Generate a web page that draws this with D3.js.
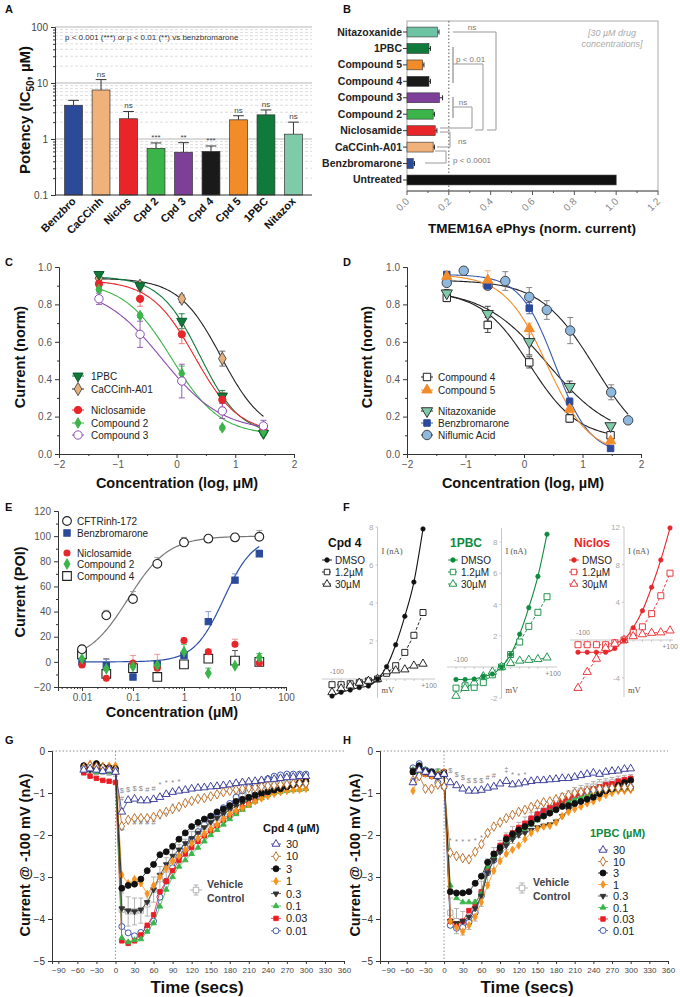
<!DOCTYPE html>
<html><head><meta charset="utf-8">
<script src="https://cdn.jsdelivr.net/npm/d3@7"></script>
<style>body{margin:0;background:#fff}svg{font-family:"Liberation Sans",Arial,Helvetica,sans-serif}</style>
</head><body>
<svg id="fig" width="680" height="997"></svg>
<script>
// ================= DATA =================
// Panel A
const aCats = ["Benzbro","CaCCinh","Niclos","Cpd 2","Cpd 3","Cpd 4","Cpd 5","1PBC","Nitazox"];
const aVals = [4.0,7.5,2.3,0.68,0.58,0.60,2.2,2.7,1.22];
const aErrTop = [4.9,11.5,3.1,0.85,0.86,0.75,2.6,3.3,2.0];
const aSig = ["","ns","ns","***","**","***","ns","ns","ns"];
const aColors = ["#2b4a9a","#f0b27a","#e8262a","#3bb44a","#7d3f98","#1a1a1a","#f28c28","#0f7a3a","#7fcaa8"];
const aTicks = [0.1,1,10,100];
// Panel B
const bCats = ["Nitazoxanide","1PBC","Compound 5","Compound 4","Compound 3","Compound 2","Niclosamide","CaCCinh-A01","Benzbromarone","Untreated"];
const bVals = [0.145,0.105,0.075,0.105,0.155,0.125,0.135,0.125,0.03,1.0];
const bErr = [0.008,0.007,0.006,0.007,0.015,0.006,0.008,0.006,0.006,0.0];
const bColors = ["#6cc4a4","#0f7a3a","#f28c28","#1a1a1a","#7d3f98","#3bb44a","#e8262a","#f0b27a","#2b4a9a","#111111"];
const bTicks = [0,0.2,0.4,0.6,0.8,1.0,1.2];
// Panels C & D (log µM)
const cdX = [-1.32,-0.62,0.09,0.78,1.48];
const c1PBC = [0.96,0.90,0.71,0.31,0.11], c1PBCe=[0.01,0.01,0.04,0.03,0.01];
const cCaCC = [0.94,0.90,0.83,0.51,0.13], cCaCCe=[0.01,0.01,0.02,0.04,0.02];
const cNiclos = [0.91,0.83,0.64,0.29,0.14], cNiclose=[0.01,0.04,0.05,0.04,0.02];
const cCpd2 = [0.88,0.74,0.43,0.14,0.12], cCpd2e=[0.01,0.01,0.04,0.01,0.01];
const cCpd3 = [0.83,0.64,0.39,0.23,0.15], cCpd3e=[0.03,0.07,0.09,0.04,0.03];
// fit params: top, bottom, logIC50, hill
const cFit1PBC=[0.95,0.10,0.40,1.27], cFitCaCC=[0.94,0.10,0.76,1.2], cFitNiclos=[0.93,0.11,0.31,1.16], cFitCpd2=[0.92,0.10,-0.08,1.06], cFitCpd3=[0.90,0.12,-0.25,0.85];
const dCpd4 = [0.835,0.69,0.49,0.19,0.10], dCpd4e=[0.02,0.04,0.03,0.02,0.02];
const dCpd5 = [0.95,0.93,0.67,0.24,0.07], dCpd5e=[0.01,0.05,0.03,0.02,0.01];
const dNitaz = [0.86,0.75,0.60,0.36,0.15], dNitaze=[0.02,0.04,0.07,0.03,0.01];
const dBenz = [0.96,0.90,0.78,0.28,0.03], dBenze=[0.01,0.01,0.03,0.02,0.01];
const dNiflX = [-1.32,-1.03,-0.62,-0.32,0.09,0.39,0.79,1.49,1.78];
const dNifl = [0.915,0.98,0.90,0.925,0.84,0.77,0.66,0.33,0.18], dNifle=[0.01,0.02,0.01,0.05,0.05,0.05,0.07,0.04,0.01];
const dFitCpd4=[0.87,0.08,0.10,1.05], dFitCpd5=[0.96,0.0,0.39,1.2], dFitNitaz=[0.88,0.08,0.41,0.79], dFitBenz=[0.96,0.0,0.53,1.46], dFitNifl=[0.93,0.0,1.21,0.93];
// Panel E
const eConc = [0.01,0.03,0.1,0.3,1,3,10,30];
const eCFTR = [10,37,50,78,95,98,99,99.5], eCFTRe=[3,4,6,5,4,2,3,5];
const eBenz = [0,-3,-12,-2,5,32,65,86], eBenze=[1,5,1,2,1,8,5,3];
const eNiclos = [-2.5,-13,-1,-5,17,8,14,-1], eNiclose=[1,1,6,11,2,2,4,1];
const eCpd2 = [2.4,-5.5,-3.7,-2.7,8,-9,-3,3.5], eCpd2e=[1,1,1,2,6,4,1,3];
const eCpd4 = [6,-9.6,-5,-12,-2,2.5,1,0], eCpd4e=[2,12,2,2,2,2,8,2];
const eFitCFTR=[100,0,0.08,1.1], eFitBenz=[100,0,6,1.5];
const eTicks = [0.01,0.1,1,10,100];
// Panel F (I-V)
const fV = [-100,-80,-60,-40,-20,0,20,40,60,80,100];
const fCpd4D = [-0.9,-0.7,-0.58,-0.45,-0.37,0,0.65,1.8,3.3,5.1,7.9];
const fCpd4L = [-0.3,-0.3,-0.25,-0.2,-0.1,0,0.3,0.7,1.4,2.3,3.5];
const fCpd4H = [-0.7,-0.5,-0.35,-0.2,-0.1,0,0.4,0.45,0.5,0.7,0.8];
const f1PBCD = [-0.8,-0.8,-0.77,-0.6,-0.45,0,0.8,2.1,3.8,5.8,8.5];
const f1PBCL = [-1.35,-1.2,-1.3,-1.0,-0.5,0,0.8,1.6,2.6,3.5,4.5];
const f1PBCH = [-1.85,-1.35,-1.0,-0.6,-0.3,0,0.25,0.4,0.45,0.5,0.6];
const fNicD = [-1.3,-1.3,-1.3,-1.3,-0.9,0,1.3,3.1,5.6,8.5,11.9];
const fNicL = [-0.5,-0.5,-0.5,-0.5,-0.3,0,0.85,1.4,2.8,4.7,7.1];
const fNicH = [-5.1,-3.4,-2.0,-0.85,-0.4,0,0.4,0.6,0.75,0.8,1.0];
// Panels G & H (time courses)
const tT = [-50,-40,-30,-20,-10,0,10,20,30,40,50,60,70,80,90,100,110,120,130,140,150,160,170,180,190,200,210,220,230,240,250,260,270,280,290,300];
const tConcs = ["30","10","3","1","0.3","0.1","0.03","0.01"];
const g30 = [-0.45,-0.42,-0.45,-0.48,-0.45,-0.5,-1.45,-1.17,-1.14,-1.18,-1.18,-1.15,-1.1,-1.03,-0.98,-0.95,-0.93,-0.9,-0.88,-0.87,-0.85,-0.84,-0.82,-0.8,-0.77,-0.75,-0.73,-0.72,-0.7,-0.68,-0.67,-0.65,-0.63,-0.62,-0.6,-0.6];
const g10 = [-0.4,-0.35,-0.38,-0.4,-0.42,-0.45,-1.79,-1.64,-1.6,-1.6,-1.6,-1.57,-1.5,-1.45,-1.38,-1.33,-1.24,-1.19,-1.14,-1.12,-1.08,-1.03,-0.98,-0.95,-0.92,-0.9,-0.88,-0.87,-0.85,-0.83,-0.82,-0.8,-0.8,-0.78,-0.77,-0.77];
const g3 = [-0.35,-0.4,-0.3,-0.38,-0.4,-0.42,-3.27,-3.2,-3.17,-3.05,-2.85,-2.7,-2.47,-2.4,-2.27,-2.1,-1.95,-1.8,-1.7,-1.62,-1.55,-1.45,-1.38,-1.3,-1.2,-1.15,-1.1,-1.05,-1.0,-0.97,-0.93,-0.9,-0.85,-0.8,-0.75,-0.72];
const g1 = [-0.35,-0.3,-0.38,-0.35,-0.35,-0.35,-2.95,-3.15,-3.05,-3.15,-3.4,-3.2,-3.0,-2.8,-2.62,-2.5,-2.35,-2.2,-2.08,-1.97,-1.85,-1.75,-1.62,-1.5,-1.42,-1.35,-1.27,-1.2,-1.13,-1.08,-1.02,-0.98,-0.95,-0.93,-0.92,-0.9];
const g03 = [-0.4,-0.45,-0.4,-0.42,-0.45,-0.45,-3.75,-3.8,-3.82,-3.78,-3.6,-3.3,-2.95,-2.7,-2.5,-2.35,-2.2,-2.08,-1.95,-1.82,-1.7,-1.6,-1.5,-1.4,-1.32,-1.25,-1.18,-1.12,-1.06,-1.0,-0.96,-0.92,-0.88,-0.85,-0.82,-0.8];
const g01 = [-0.42,-0.45,-0.5,-0.45,-0.5,-0.5,-4.45,-4.55,-4.5,-4.48,-4.3,-4.1,-3.7,-3.3,-3.0,-2.75,-2.6,-2.45,-2.3,-2.15,-2.0,-1.88,-1.75,-1.62,-1.5,-1.4,-1.3,-1.2,-1.12,-1.05,-1.0,-0.97,-0.95,-0.93,-0.92,-0.9];
const g003 = [-0.52,-0.6,-0.65,-0.7,-0.72,-0.75,-4.52,-4.58,-4.52,-4.38,-4.15,-3.9,-3.35,-3.1,-2.85,-2.6,-2.45,-2.3,-2.15,-2.02,-1.9,-1.78,-1.65,-1.55,-1.45,-1.35,-1.27,-1.18,-1.1,-1.02,-0.97,-0.9,-0.85,-0.8,-0.76,-0.72];
const g001 = [-0.4,-0.38,-0.42,-0.45,-0.45,-0.48,-4.18,-4.33,-4.4,-4.32,-4.22,-4.05,-3.48,-3.1,-2.78,-2.52,-2.3,-2.1,-1.92,-1.75,-1.6,-1.48,-1.35,-1.25,-1.1,-0.95,-0.85,-0.78,-0.72,-0.66,-0.6,-0.57,-0.55,-0.55,-0.55,-0.55];
const gVeh = [-0.45,-0.45,-0.48,-0.48,-0.5,-0.5,-3.78,-3.82,-3.82,-3.8,-3.65,-3.3,-3.05,-2.82,-2.6,-2.45,-2.3,-2.12,-1.98,-1.85,-1.72,-1.6,-1.5,-1.38,-1.15,-1.05,-1.0,-0.95,-0.9,-0.85,-0.82,-0.8,-0.78,-0.75,-0.73,-0.72];
const gVehE = [0.08,0.08,0.08,0.08,0.08,0.1,0.4,0.35,0.32,0.3,0.28,0.3,0.3,0.28,0.25,0.22,0.2,0.2,0.18,0.18,0.16,0.15,0.15,0.15,0.15,0.14,0.14,0.13,0.13,0.12,0.12,0.12,0.12,0.12,0.12,0.12];
const gAnnT = [10,20,30,40,50,60,70,80,90,100,10,30,40,50,60,70,80,90,10];
const gAnnV = [-1.0,-0.98,-0.95,-0.95,-0.98,-0.95,-0.85,-0.8,-0.82,-0.78,-1.18,-1.76,-1.76,-1.76,-1.76,-1.69,-1.57,-1.36,-1.95];
const gAnnS = ["$","$","$","$","#","#","*","*","*","*","#","#","#","#","#","*","*","*","**"];
const h30 = [-0.75,-0.45,-0.5,-0.55,-0.6,-0.55,-0.75,-0.82,-0.9,-0.95,-0.95,-0.93,-0.88,-0.85,-0.78,-0.72,-0.8,-0.78,-0.75,-0.72,-0.7,-0.7,-0.68,-0.67,-0.65,-0.65,-0.62,-0.58,-0.55,-0.52,-0.55,-0.5,-0.48,-0.47,-0.43,-0.42];
const h10 = [-0.7,-0.6,-0.9,-0.9,-0.8,-0.85,-2.42,-2.5,-2.55,-2.58,-2.4,-2.22,-1.95,-1.8,-1.7,-1.6,-1.52,-1.45,-1.4,-1.33,-1.27,-1.22,-1.2,-1.15,-1.1,-1.05,-1.0,-0.98,-0.95,-0.93,-0.9,-0.9,-0.88,-0.88,-0.87,-0.87];
const h3 = [-0.5,-0.35,-0.5,-0.5,-0.6,-0.55,-3.35,-3.38,-3.38,-3.35,-3.15,-2.98,-2.65,-2.45,-2.3,-2.1,-1.98,-1.88,-1.8,-1.72,-1.62,-1.55,-1.48,-1.4,-1.32,-1.3,-1.25,-1.2,-1.15,-1.1,-1.02,-0.95,-0.9,-0.82,-0.75,-0.7];
const h1 = [-0.95,-0.6,-0.55,-0.6,-0.55,-0.5,-4.05,-4.2,-4.3,-4.15,-3.95,-3.6,-3.2,-2.85,-2.62,-2.45,-2.35,-2.25,-2.1,-1.95,-1.85,-1.8,-1.78,-1.7,-1.55,-1.45,-1.38,-1.32,-1.25,-1.2,-1.12,-1.05,-1.0,-0.95,-0.95,-0.93];
const h03 = [-0.45,-0.5,-0.45,-0.5,-0.55,-0.5,-4.05,-4.1,-4.05,-3.95,-3.75,-3.45,-2.9,-2.6,-2.4,-2.25,-2.1,-2.0,-1.95,-1.88,-1.82,-1.78,-1.75,-1.68,-1.55,-1.4,-1.3,-1.22,-1.15,-1.08,-1.02,-0.98,-0.95,-0.93,-0.92,-0.9];
const h01 = [-0.45,-0.5,-0.45,-0.55,-0.5,-0.5,-3.2,-3.5,-3.6,-3.6,-3.6,-3.4,-2.75,-2.5,-2.35,-2.2,-2.05,-1.95,-1.85,-1.75,-1.65,-1.55,-1.45,-1.38,-1.3,-1.22,-1.15,-1.1,-1.05,-1.0,-0.97,-0.95,-0.93,-0.92,-0.9,-0.9];
const h003 = [-0.5,-0.45,-0.55,-0.6,-0.55,-0.5,-4.05,-4.12,-4.05,-3.8,-3.65,-3.35,-2.8,-2.45,-2.25,-2.05,-1.95,-1.82,-1.72,-1.6,-1.5,-1.42,-1.35,-1.28,-1.2,-1.12,-1.05,-1.0,-0.95,-0.9,-0.85,-0.8,-0.78,-0.72,-0.68,-0.65];
const h001 = [-0.4,-0.3,-0.45,-0.5,-0.75,-0.85,-4.15,-4.22,-4.2,-4.08,-3.85,-3.45,-2.9,-2.6,-2.38,-2.2,-2.05,-1.9,-1.78,-1.65,-1.55,-1.45,-1.38,-1.3,-1.22,-1.15,-1.08,-1.02,-0.98,-0.95,-0.92,-0.9,-0.9,-0.88,-0.87,-0.87];
const hVeh = [-0.45,-0.45,-0.5,-0.5,-0.5,-0.55,-3.85,-4.05,-4.1,-4.0,-3.8,-3.4,-2.85,-2.55,-2.35,-2.15,-2.0,-1.88,-1.75,-1.62,-1.52,-1.42,-1.35,-1.25,-1.15,-1.08,-1.0,-0.95,-0.9,-0.85,-0.8,-0.78,-0.75,-0.72,-0.7,-0.68];
const hVehE = [0.08,0.08,0.08,0.08,0.08,0.1,0.35,0.3,0.28,0.25,0.25,0.3,0.28,0.25,0.22,0.2,0.2,0.18,0.18,0.16,0.15,0.15,0.15,0.14,0.14,0.13,0.13,0.13,0.12,0.12,0.12,0.12,0.12,0.12,0.12,0.12];
const hAnnT = [10,20,30,40,50,60,70,80,100,110,120,130,10,20,30,40,50,60];
const hAnnV = [-0.52,-0.62,-0.69,-0.76,-0.76,-0.76,-0.69,-0.64,-0.5,-0.62,-0.64,-0.62,-2.19,-2.21,-2.21,-2.21,-2.19,-2.12];
const hAnnS = ["$","$","$","$","$","$","#","#","‡","*","*","*","*","*","*","*","*","*"];
const tTicks = [-90,-60,-30,0,30,60,90,120,150,180,210,240,270,300,330,360];

// ================= DRAWING =================
const FONT = '"Liberation Sans", Arial, Helvetica, sans-serif';
const svg = d3.select("#fig");
svg.append("rect").attr("width",680).attr("height",997).attr("fill","#fff");

function txt(x,y,s,o={}){
  const t=svg.append("text").attr("x",x).attr("y",y).text(s)
    .attr("font-size",o.size||10).attr("fill",o.fill||"#222")
    .attr("font-weight",o.bold?"bold":"normal").attr("text-anchor",o.anchor||"start")
    .attr("font-family",o.family||FONT);
  if(o.italic) t.attr("font-style","italic");
  if(o.rotate!=null) t.attr("transform",`rotate(${o.rotate},${x},${y})`);
  return t;
}
const symMap={circle:d3.symbolCircle,square:d3.symbolSquare,triangle:d3.symbolTriangle,down:d3.symbolTriangle,diamond:d3.symbolDiamond};
function sym(x,y,type,size,fill,stroke,sw){
  svg.append("path").attr("d",d3.symbol(symMap[type],size)())
    .attr("transform",`translate(${x},${y})`+(type==="down"?" rotate(180)":""))
    .attr("fill",fill).attr("stroke",stroke||"none").attr("stroke-width",sw||0.8);
}
function line(x1,y1,x2,y2,c,w,dash){
  const l=svg.append("line").attr("x1",x1).attr("y1",y1).attr("x2",x2).attr("y2",y2).attr("stroke",c||"#333").attr("stroke-width",w||1);
  if(dash) l.attr("stroke-dasharray",dash);
  return l;
}
function styleAxis(g,size,color){
  g.attr("font-family",FONT);
  g.selectAll("text").attr("font-size",size||10).attr("fill",color||"#555");
  g.selectAll("line,path").attr("stroke","#333");
}
function hill(x,p){return p[1]+(p[0]-p[1])/(1+Math.pow(10,(x-p[2])*p[3]));}
function ehill(x,p){return p[1]+(p[0]-p[1])/(1+Math.pow(p[2]/x,p[3]));}

// Panel letters
[["A",5,13],["B",343,13],["C",5,266],["D",343,266],["E",5,511],["F",343,511],["G",5,744],["H",343,744]]
 .forEach(d=>txt(d[1],d[2],d[0],{size:11,bold:true,fill:"#111"}));

// ---------- Panel A ----------
{
  const xS=d3.scaleBand().domain(aCats).range([55,312]).paddingInner(0.35).paddingOuter(0.35);
  const yS=d3.scaleLog().domain([0.1,100]).range([195,27]);
  [0.1,1,10].forEach(dec=>{for(let m=2;m<=9;m++){const v=dec*m;line(55,yS(v),312,yS(v),"#cfcfcf",0.7,"3,2");}});
  [1,10,100].forEach(v=>line(55,yS(v),312,yS(v),"#b5b5b5",1));
  txt(65,40,"p < 0.001 (***)  or p < 0.01 (**) vs benzbromarone",{size:8,fill:"#333"});
  aCats.forEach((c,i)=>{
    const x=xS(c),w=xS.bandwidth(),cx=x+w/2;
    line(cx,yS(aVals[i]),cx,yS(aErrTop[i]),"#333",1);
    line(cx-w*0.3,yS(aErrTop[i]),cx+w*0.3,yS(aErrTop[i]),"#333",1);
    svg.append("rect").attr("x",x).attr("y",yS(aVals[i])).attr("width",w).attr("height",yS(0.1)-yS(aVals[i]))
      .attr("fill",aColors[i]).attr("stroke","#333").attr("stroke-width",0.7);
    if(aSig[i]) txt(cx,yS(aErrTop[i])-3,aSig[i],{size:8,anchor:"middle",fill:"#444"});
    txt(cx+3,202,c,{size:11,bold:true,anchor:"end",rotate:-45,fill:"#111"});
  });
  const ax=svg.append("g").attr("transform","translate(55,0)").call(d3.axisLeft(yS).tickValues(aTicks).tickFormat(d=>String(d)).tickSize(4));
  styleAxis(ax,10,"#444");
  const axm=svg.append("g").attr("transform","translate(55,0)").call(d3.axisLeft(yS).tickValues([2,3,4,5,6,7,8,9].flatMap(m=>[0.1*m,m,10*m])).tickFormat("").tickSize(2));
  axm.select(".domain").remove(); axm.selectAll("line").attr("stroke","#333");
  line(55,195,312,195,"#333",1);
  const t=svg.append("text").attr("transform","translate(30,110) rotate(-90)").attr("text-anchor","middle")
    .attr("font-size",15).attr("font-weight","bold").attr("fill","#111").attr("font-family",FONT);
  t.append("tspan").text("Potency (IC");
  t.append("tspan").text("50").attr("font-size",10).attr("dy",4);
  t.append("tspan").text(", µM)").attr("dy",-4);
}

// ---------- Panel B ----------
{
  const xS=d3.scaleLinear().domain([0,1.2]).range([407,658]);
  const yS=d3.scaleBand().domain(bCats).range([21,191]).paddingInner(0.4).paddingOuter(0.37);
  svg.append("rect").attr("x",407).attr("y",21).attr("width",251).attr("height",170).attr("fill","none").attr("stroke","#aaa").attr("stroke-width",1);
  line(xS(0.2),21,xS(0.2),191,"#333",0.8,"1.5,2");
  bCats.forEach((c,i)=>{
    const y=yS(c),h=yS.bandwidth(),cy=y+h/2;
    svg.append("rect").attr("x",xS(0)).attr("y",y).attr("width",xS(bVals[i])-xS(0)).attr("height",h)
      .attr("fill",bColors[i]).attr("stroke","#333").attr("stroke-width",0.6);
    if(bErr[i]>0){line(xS(bVals[i]),cy,xS(bVals[i]+bErr[i]),cy,"#222",1);line(xS(bVals[i]+bErr[i]),cy-2.5,xS(bVals[i]+bErr[i]),cy+2.5,"#222",1);}
    line(403,cy,407,cy,"#333",1);
    txt(402,cy+3.5,c,{size:10.5,bold:true,anchor:"end",fill:"#222"});
  });
  const gr="#999";
  const path=(d)=>svg.append("path").attr("d",d).attr("fill","none").attr("stroke",gr).attr("stroke-width",1);
  path("M453,32H496V130H487");
  line(453,47,453,83,"#bbb",2);
  path("M453,64H483V130H475");
  line(453,97,453,118,"#bbb",2);
  path("M453,107H472V128H440");
  path("M440,132H450V147H437");
  path("M435,151H446V163H425");
  txt(472,30,"ns",{size:8,fill:"#777",anchor:"middle"});
  txt(456,62,"p < 0.01",{size:8,fill:"#777"});
  txt(463,105,"ns",{size:8,fill:"#777",anchor:"middle"});
  txt(458,144,"ns",{size:8,fill:"#777"});
  txt(453,163,"p < 0.0001",{size:8,fill:"#777"});
  txt(612,36,"[30 µM drug",{size:9,italic:true,fill:"#aaa",anchor:"middle"});
  txt(612,47,"concentrations]",{size:9,italic:true,fill:"#aaa",anchor:"middle"});
  line(407,191,658,191,"#555",1);
  bTicks.forEach(v=>{line(xS(v),191,xS(v),195,"#555",1);txt(xS(v)+3,202,d3.format(".1f")(v),{size:10,anchor:"end",rotate:-45,fill:"#888"});});
  [0.1,0.3,0.5,0.7,0.9,1.1].forEach(v=>line(xS(v),191,xS(v),193,"#555",1));
  txt(532,233,"TMEM16A ePhys (norm. current)",{size:13.5,bold:true,anchor:"middle",fill:"#111"});
}

// ---------- Panels C & D ----------
function dosePanel(x0,x1,series,legX,legTxtX,legItems,yTitleX,xTitleX){
  const xS=d3.scaleLinear().domain([-2,2]).range([x0,x1]);
  const yS=d3.scaleLinear().domain([0,1]).range([454,267]);
  series.forEach(s=>{
    const lo=d3.min(s.x),hi=d3.max(s.x);
    const pts=d3.range(0,121).map(i=>{const x=lo+(hi-lo)*i/120;return [xS(x),yS(hill(x,s.fit))];});
    svg.append("path").attr("d",d3.line()(pts)).attr("fill","none").attr("stroke",s.lc).attr("stroke-width",1.1);
  });
  series.forEach(s=>{
    s.x.forEach((x,i)=>{
      const cx=xS(x),y1=yS(s.y[i]+s.e[i]),y2=yS(s.y[i]-s.e[i]);
      line(cx,y1,cx,y2,s.ec,0.9);line(cx-3,y1,cx+3,y1,s.ec,0.9);line(cx-3,y2,cx+3,y2,s.ec,0.9);
    });
  });
  series.forEach(s=>s.x.forEach((x,i)=>sym(xS(x),yS(s.y[i]),s.m,s.sz,s.f,s.s,1)));
  const ax=svg.append("g").attr("transform",`translate(${x0},0)`).call(d3.axisLeft(yS).tickValues([0,0.2,0.4,0.6,0.8,1.0]).tickFormat(d3.format(".1f")).tickSize(4));
  styleAxis(ax,10,"#555");
  const am=svg.append("g").attr("transform",`translate(${x0},0)`).call(d3.axisLeft(yS).tickValues([0.1,0.3,0.5,0.7,0.9]).tickFormat("").tickSize(2));
  am.select(".domain").remove();am.selectAll("line").attr("stroke","#333");
  const bx=svg.append("g").attr("transform","translate(0,454)").call(d3.axisBottom(xS).tickValues([-2,-1,0,1,2]).tickFormat(d3.format("d")).tickSize(4));
  styleAxis(bx,10,"#555");
  const bm=svg.append("g").attr("transform","translate(0,454)").call(d3.axisBottom(xS).tickValues([-1.5,-0.5,0.5,1.5]).tickFormat("").tickSize(2));
  bm.select(".domain").remove();bm.selectAll("line").attr("stroke","#333");
  legItems.forEach(L=>{
    line(legX-6,L.y,legX+6,L.y,L.s.lc,1);
    sym(legX,L.y,L.s.m,L.s.sz,L.s.f,L.s.s,1);
    txt(legTxtX,L.y+3.5,L.t,{size:10,fill:"#222"});
  });
  txt(yTitleX,357,"Current (norm)",{size:14.5,bold:true,anchor:"middle",rotate:-90,fill:"#111"});
  txt(xTitleX,488,"Concentration (log, µM)",{size:14.5,bold:true,anchor:"middle",fill:"#111"});
}
{
  const s1={x:cdX,y:c1PBC,e:c1PBCe,fit:cFit1PBC,lc:"#0f7a3a",ec:"#0f7a3a",m:"down",sz:45,f:"#0f7a3a",s:"#0a5a2a"};
  const s2={x:cdX,y:cCaCC,e:cCaCCe,fit:cFitCaCC,lc:"#222",ec:"#555",m:"diamond",sz:50,f:"#e8b07a",s:"#555"};
  const s3={x:cdX,y:cNiclos,e:cNiclose,fit:cFitNiclos,lc:"#e8262a",ec:"#e87070",m:"circle",sz:42,f:"#e8262a",s:"#e8262a"};
  const s4={x:cdX,y:cCpd2,e:cCpd2e,fit:cFitCpd2,lc:"#3bb44a",ec:"#3bb44a",m:"diamond",sz:32,f:"#3bb44a",s:"#3bb44a"};
  const s5={x:cdX,y:cCpd3,e:cCpd3e,fit:cFitCpd3,lc:"#8a4fb0",ec:"#8a4fb0",m:"circle",sz:55,f:"#fff",s:"#8a4fb0"};
  dosePanel(59,294,[s2,s1,s3,s4,s5],78,91,[{y:376,s:s1,t:"1PBC"},{y:389,s:s2,t:"CaCCinh-A01"},{y:410,s:s3,t:"Niclosamide"},{y:423,s:s4,t:"Compound 2"},{y:435,s:s5,t:"Compound 3"}],25,177);
  const d1={x:cdX,y:dCpd4,e:dCpd4e,fit:dFitCpd4,lc:"#222",ec:"#333",m:"square",sz:55,f:"#fff",s:"#222"};
  const d2={x:cdX,y:dCpd5,e:dCpd5e,fit:dFitCpd5,lc:"#f28c28",ec:"#f5a860",m:"triangle",sz:45,f:"#f28c28",s:"#f28c28"};
  const d3s={x:cdX,y:dNitaz,e:dNitaze,fit:dFitNitaz,lc:"#222",ec:"#333",m:"down",sz:55,f:"#7fcaa8",s:"#333"};
  const d4={x:cdX,y:dBenz,e:dBenze,fit:dFitBenz,lc:"#3a5bb0",ec:"#3a5bb0",m:"square",sz:42,f:"#2b4a9a",s:"#2b4a9a"};
  const d5={x:dNiflX,y:dNifl,e:dNifle,fit:dFitNifl,lc:"#222",ec:"#777",m:"circle",sz:70,f:"#8fb8de",s:"#444"};
  dosePanel(407,641,[d5,d1,d3s,d4,d2],427,438,[{y:377,s:d1,t:"Compound 4"},{y:390,s:d2,t:"Compound 5"},{y:411,s:d3s,t:"Nitazoxanide"},{y:423,s:d4,t:"Benzbromarone"},{y:435,s:d5,t:"Niflumic Acid"}],372,523);
}

// ---------- Panel E ----------
{
  const xS=d3.scaleLog().domain([Math.pow(10,-2.47),100]).range([58,286]);
  const yS=d3.scaleLinear().domain([-20,120]).range([687,511]);
  const fits=[[eFitCFTR,"#777"],[eFitBenz,"#2b4fa8"]];
  fits.forEach(([p,c])=>{
    const pts=d3.range(0,121).map(i=>{const lx=-2+(Math.log10(30)+2)*i/120;const x=Math.pow(10,lx);return [xS(x),yS(ehill(x,p))];});
    svg.append("path").attr("d",d3.line()(pts)).attr("fill","none").attr("stroke",c).attr("stroke-width",1.2);
  });
  const ser=[
    {y:eCpd4,e:eCpd4e,m:"square",sz:75,f:"#fff",s:"#222",ec:"#444"},
    {y:eCFTR,e:eCFTRe,m:"circle",sz:60,f:"#fff",s:"#222",ec:"#999"},
    {y:eBenz,e:eBenze,m:"square",sz:40,f:"#2b4a9a",s:"#2b4a9a",ec:"#7d94cc"},
    {y:eNiclos,e:eNiclose,m:"circle",sz:28,f:"#e8262a",s:"#e8262a",ec:"#ee8a8a"},
    {y:eCpd2,e:eCpd2e,m:"diamond",sz:28,f:"#3bb44a",s:"#3bb44a",ec:"#3bb44a"}];
  ser.forEach(s=>eConc.forEach((c,i)=>{const cx=xS(c);const y1=yS(s.y[i]+s.e[i]);line(cx,yS(s.y[i]),cx,y1,s.ec,0.9);line(cx-3,y1,cx+3,y1,s.ec,0.9);}));
  ser.forEach(s=>eConc.forEach((c,i)=>sym(xS(c),yS(s.y[i]),s.m,s.sz,s.f,s.s,1.1)));
  const ax=svg.append("g").attr("transform","translate(58,0)").call(d3.axisLeft(yS).tickValues([-20,0,20,40,60,80,100,120]).tickSize(4));
  styleAxis(ax,10,"#555");
  const am=svg.append("g").attr("transform","translate(58,0)").call(d3.axisLeft(yS).tickValues([-10,10,30,50,70,90,110]).tickFormat("").tickSize(2));
  am.select(".domain").remove();am.selectAll("line").attr("stroke","#333");
  const bx=svg.append("g").attr("transform","translate(0,687)").call(d3.axisBottom(xS).tickValues(eTicks).tickFormat(d=>String(d)).tickSize(4));
  styleAxis(bx,10,"#555");
  const minor=[];[0.001,0.01,0.1,1,10].forEach(d=>{for(let m=2;m<=9;m++){const v=d*m;if(xS(v)>=58&&v<100)minor.push(v);}});
  const bm=svg.append("g").attr("transform","translate(0,687)").call(d3.axisBottom(xS).tickValues(minor).tickFormat("").tickSize(2));
  bm.select(".domain").remove();bm.selectAll("line").attr("stroke","#333");
  const leg=[[521,ser[1],"CFTRinh-172"],[533,ser[2],"Benzbromarone"],[553,ser[3],"Niclosamide"],[564,ser[4],"Compound 2"],[576,ser[0],"Compound 4"]];
  leg.forEach(L=>{sym(67,L[0],L[1].m,L[1].sz,L[1].f,L[1].s,1.1);txt(77,L[0]+3.5,L[2],{size:10,fill:"#222"});});
  txt(25,592,"Current (POI)",{size:14.5,bold:true,anchor:"middle",rotate:-90,fill:"#111"});
  txt(172,717,"Concentration (µM)",{size:14.5,bold:true,anchor:"middle",fill:"#111"});
}

// ---------- Panel F ----------
function ivPanel(c){
  const xS=d3.scaleLinear().domain([-100,100]).range([c.xl,c.xr]);
  const yS=d3.scaleLinear().domain([0,c.ymax]).range([c.y0,c.ytop]);
  const ox=xS(0);
  line(c.hx0,c.y0,c.hx1,c.y0,"#bbb",0.8);
  line(ox,c.vy0,ox,c.vy1,"#bbb",0.8);
  c.ticks.forEach(v=>{line(ox-2,yS(v),ox,yS(v),"#bbb",0.8);txt(ox-4,yS(v)+3,String(v),{size:8,fill:"#aaa",anchor:"end"});});
  [-100,-80,-60,-40,-20,20,40,60,80,100].forEach(v=>line(xS(v),c.y0,xS(v),c.y0+2,"#bbb",0.8));
  txt(xS(-100)-2,c.y0-5,"-100",{size:7,fill:"#888"});
  txt(Math.min(xS(100)+14,678),c.y0+c.plusDy,"+100",{size:7,fill:"#888",anchor:"end"});
  txt(ox+4,c.mvY,"mV",{size:8.5,fill:"#555",family:'"Liberation Serif","Times New Roman",serif'});
  txt(ox+4,554,"I (nA)",{size:8.5,fill:"#555",family:'"Liberation Serif","Times New Roman",serif'});
  const col=c.col;
  const ln=d3.line().x((d,i)=>xS(fV[i])).y(d=>yS(d));
  svg.append("path").attr("d",ln.curve(d3.curveMonotoneX)(c.D)).attr("fill","none").attr("stroke",col).attr("stroke-width",1.1);
  svg.append("path").attr("d",d3.line().x((d,i)=>xS(fV[i])).y(d=>yS(d))(c.L)).attr("fill","none").attr("stroke",col).attr("stroke-width",0.9).attr("stroke-dasharray","3,2");
  svg.append("path").attr("d",d3.line().x((d,i)=>xS(fV[i])).y(d=>yS(d))(c.H)).attr("fill","none").attr("stroke",col).attr("stroke-width",0.9).attr("stroke-dasharray","3,2");
  fV.forEach((v,i)=>{
    sym(xS(v),yS(c.L[i]),"square",36,"#fff",col,0.9);
    sym(xS(v),yS(c.H[i]),"triangle",30,"#fff",col,0.9);
    sym(xS(v),yS(c.D[i]),"circle",16,col,col,0.6);
  });
  txt(c.tx,547,c.title,{size:12,bold:true,fill:c.tcol});
  const lg=[[560,"circle",16,col,"DMSO",false],[572,"square",30,"#fff","1.2µM",true],[584,"triangle",26,"#fff","30µM",true]];
  lg.forEach(L=>{line(c.mx-5,L[0],c.mx+5,L[0],col,0.9,L[5]?"2,1.5":null);sym(c.mx,L[0],L[1],L[2],L[3],col,0.9);txt(c.mx+8,L[0]+3.5,L[4],{size:10,fill:"#222"});});
}
ivPanel({xl:332,xr:423,y0:679,ymax:8,ytop:527,hx0:322,hx1:435,vy0:527,vy1:698,ticks:[2,4,6,8],D:fCpd4D,L:fCpd4L,H:fCpd4H,col:"#111",title:"Cpd 4",tcol:"#111",tx:328,mx:327,plusDy:9,mvY:693});
ivPanel({xl:456,xr:547,y0:667,ymax:8,ytop:542,hx0:447,hx1:557,vy0:528,vy1:698,ticks:[-2,2,4,6,8],D:f1PBCD,L:f1PBCL,H:f1PBCH,col:"#0f8a3e",title:"1PBC",tcol:"#0f8a3e",tx:450,mx:453,plusDy:9,mvY:693});
ivPanel({xl:578,xr:670,y0:640,ymax:12,ytop:527,hx0:570,hx1:673,vy0:527,vy1:697,ticks:[-4,4,8,12],D:fNicD,L:fNicL,H:fNicH,col:"#e8262a",title:"Niclos",tcol:"#e8262a",tx:574,mx:574,plusDy:9,mvY:693});

// ---------- Panels G & H ----------
const tStyles=[
  {m:"triangle",sz:26,f:"#fff",s:"#2e3192"},
  {m:"diamond",sz:26,f:"#fff",s:"#b5651d"},
  {m:"circle",sz:28,f:"#111",s:"#111"},
  {m:"diamond",sz:16,f:"#f7941d",s:"#f7941d"},
  {m:"down",sz:14,f:"#333",s:"#333"},
  {m:"triangle",sz:14,f:"#39b54a",s:"#39b54a"},
  {m:"square",sz:20,f:"#ed1c24",s:"#ed1c24"},
  {m:"circle",sz:28,f:"#fff",s:"#2e4a9e"}];
function tcPanel(c){
  const xS=d3.scaleLinear().domain(c.dom).range([c.x0,c.x1]);
  const yS=d3.scaleLinear().domain([-5,0]).range([961,751]);
  line(c.x0,751,c.x1,751,"#777",0.8,"1.5,2");
  line(xS(0),751,xS(0),961,"#777",0.8,"1.5,2");
  const ln=d3.line().x((d,i)=>xS(tT[i])).y(d=>yS(d));
  svg.append("path").attr("d",ln(c.veh)).attr("fill","none").attr("stroke","#aaa").attr("stroke-width",0.9);
  tT.forEach((t,i)=>{const cx=xS(t),a=yS(c.veh[i]+c.vehE[i]),b=yS(c.veh[i]-c.vehE[i]);line(cx,a,cx,b,"#aaa",0.9);line(cx-2.5,a,cx+2.5,a,"#aaa",0.9);line(cx-2.5,b,cx+2.5,b,"#aaa",0.9);});
  tT.forEach((t,i)=>sym(xS(t),yS(c.veh[i]),"square",28,"#fff","#aaa",0.9));
  for(let k=c.series.length-1;k>=0;k--){
    const s=tStyles[k],d=c.series[k];
    svg.append("path").attr("d",ln(d)).attr("fill","none").attr("stroke",s.s).attr("stroke-width",0.8);
    tT.forEach((t,i)=>sym(xS(t),yS(d[i]),s.m,s.sz,s.f,s.s,0.9));
  }
  c.annT.forEach((t,i)=>txt(xS(t),yS(c.annV[i]),c.annS[i],{size:7.5,fill:"#888",anchor:"middle"}));
  const ax=svg.append("g").attr("transform",`translate(${c.x0},0)`).call(d3.axisLeft(yS).tickValues([-5,-4,-3,-2,-1,0]).tickFormat(d3.format("d")).tickSize(4));
  styleAxis(ax,10,"#333");
  const bx=svg.append("g").attr("transform","translate(0,961)").call(d3.axisBottom(xS).tickValues(tTicks).tickFormat(d3.format("d")).tickSize(3));
  styleAxis(bx,8,"#444");
  txt(c.lgTitleX,c.lgTitleY,c.lgTitle,{size:11,bold:true,fill:c.lgCol});
  tConcs.forEach((n,k)=>{const y=c.lgY0+k*c.lgDy,s=tStyles[k];line(c.lgX-5,y,c.lgX+5,y,s.s,0.8);sym(c.lgX,y,s.m,s.sz,s.f,s.s,0.9);txt(c.lgX+10,y+4,n,{size:11,fill:"#222"});});
  line(c.vx,c.vy-5,c.vx,c.vy+5,"#aaa",0.9);line(c.vx-2.5,c.vy-5,c.vx+2.5,c.vy-5,"#aaa",0.9);line(c.vx-2.5,c.vy+5,c.vx+2.5,c.vy+5,"#aaa",0.9);
  line(c.vx-6,c.vy,c.vx+6,c.vy,"#aaa",0.9);
  sym(c.vx,c.vy,"square",30,"#fff","#aaa",0.9);
  txt(c.vx+11,c.vy-2,"Vehicle",{size:10.5,bold:true,fill:"#444"});
  txt(c.vx+11,c.vy+12,"Control",{size:10.5,bold:true,fill:"#444"});
  txt(c.ytx,855,"Current @ -100 mV (nA)",{size:14.5,bold:true,anchor:"middle",rotate:-90,fill:"#111"});
  txt(c.xtx,993,"Time (secs)",{size:17,bold:true,anchor:"middle",fill:"#111"});
}
tcPanel({dom:[-100,360],x0:52,x1:344,series:[g30,g10,g3,g1,g03,g01,g003,g001],veh:gVeh,vehE:gVehE,annT:gAnnT,annV:gAnnV,annS:gAnnS,
  lgTitle:"Cpd 4 (µM)",lgCol:"#111",lgTitleX:263,lgTitleY:832,lgX:276,lgY0:844,lgDy:12.4,vx:196,vy:890,ytx:30,xtx:197});
tcPanel({dom:[-103,360],x0:380,x1:668,series:[h30,h10,h3,h1,h03,h01,h003,h001],veh:hVeh,vehE:hVehE,annT:hAnnT,annV:hAnnV,annS:hAnnS,
  lgTitle:"1PBC (µM)",lgCol:"#0f8a3e",lgTitleX:590,lgTitleY:837,lgX:603,lgY0:850,lgDy:11.5,vx:522,vy:888,ytx:360,xtx:527});
</script>
</body></html>
